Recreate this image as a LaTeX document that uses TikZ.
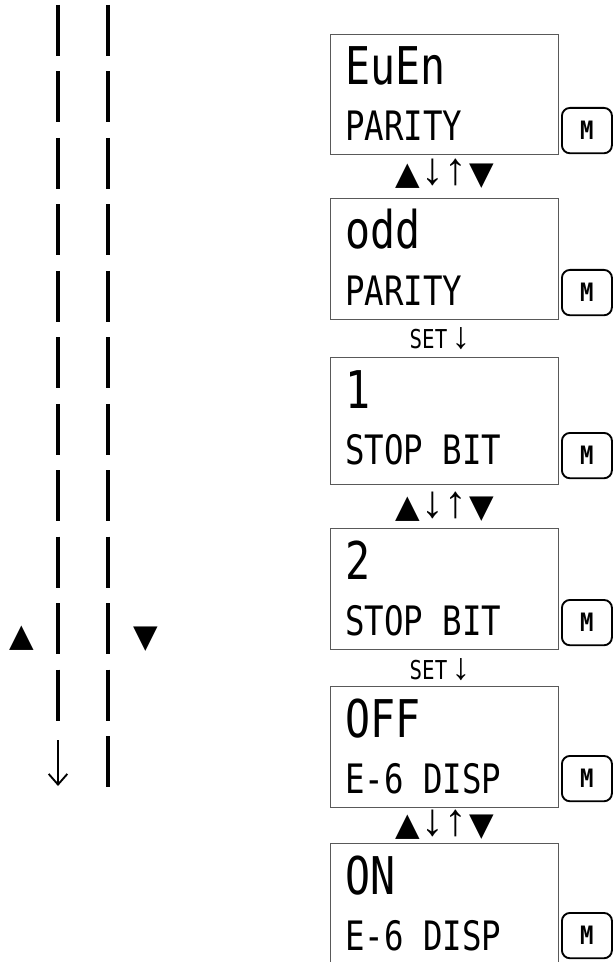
\documentclass[tikz,border=0pt]{standalone}
\usepackage{fontspec}
\newfontfamily\lcdfont[FakeStretch=0.8]{DejaVu Sans Mono}
\newfontfamily\keyfont[FakeStretch=0.88]{DejaVu Sans Mono Bold}
\newfontfamily\symfont{Liberation Sans}
\newfontfamily\shapefont{DejaVu Sans}
\newcommand{\setlabelfont}{\lcdfont\fontsize{19.5}{20}\selectfont}
\newcommand{\trifont}{\shapefont\fontsize{24}{24}\selectfont}
\newcommand{\arrowfont}{\symfont\fontsize{34}{34}\selectfont}
\newcommand{\setarrowfont}{\symfont\fontsize{28}{28}\selectfont}
\usetikzlibrary{arrows.meta}

\begin{document}
\begin{tikzpicture}[
    x=0.75pt, y=-0.75pt,
    lcdbox/.style={draw=black!65, line width=1pt, minimum width=171pt, inner sep=0pt, anchor=north west},
    keybox/.style={draw=black, line width=1.4pt, rounded corners=6pt, minimum width=37.5pt, minimum height=34pt,
        inner sep=0pt, anchor=north west, font=\keyfont\fontsize{19}{19}\selectfont},
    big_text/.style={anchor=base west, inner sep=0pt, font=\lcdfont\fontsize{39}{39}\selectfont},
    small_text/.style={anchor=base west, inner sep=0pt, font=\lcdfont\fontsize{30.4}{30}\selectfont},
    nav_label/.style={inner sep=0pt, anchor=base},
    rail/.style={line width=2.6pt, dash pattern=on 38.25pt off 11.6pt}
]

% Tamano fijo de la imagen
\useasboundingbox (0,0) rectangle (613,962);

% ==========================
% COLUMNAS IZQUIERDAS
% ==========================
\coordinate (L-top) at (58,5);
\coordinate (L-bot) at (58,723);
\coordinate (R-top) at (108,5);
\coordinate (R-bot) at (108,788);
\draw[rail] (L-top) -- (L-bot);
\draw[rail] (R-top) -- (R-bot);

\coordinate (A-top) at (58,740);
\coordinate (A-tip) at (58,786);
\draw[line width=1.6pt, -{Straight Barb[length=8pt, width=14pt, line width=1.4pt]}] (A-top) -- (A-tip);

\node[nav_label] (up-key) at (22,646) {\trifont ▲};
\node[nav_label] (down-key) at (145.5,647) {\trifont ▼};

% ==========================
% PANTALLAS
% ==========================
\foreach \i/\top/\h/\val/\param/\mtop in {
    1/34/120/EuEn/PARITY/107, 2/198/121/odd/PARITY/269, 3/357/127/1/STOP BIT/432,
    4/528/121/2/STOP BIT/599, 5/686/121/OFF/E-6 DISP/755, 6/843/121/ON/E-6 DISP/912
} {
    \node[lcdbox, minimum height=\h*0.75pt] (box-\i) at (330,\top) {};
    \node[big_text] (val-\i) at (345,\top+51) {\val};
    \node[small_text] (param-\i) at (345,\top+107) {\param};
    % Tecla M
    \node[keybox] (key-\i) at (561,\mtop) {M};
}

% ==========================
% TRANSICIONES
% ==========================
\foreach \j/\y in {1/185, 3/517, 5/835} {
    \node[nav_label] (nav-\j) at (444.5,\y)
        {{\trifont ▲}\hspace{1.5pt}{\arrowfont ↓↑}\hspace{1.5pt}{\trifont ▼}};
}
\foreach \j/\y in {2/348, 4/679} {
    \node[nav_label] (nav-\j) at (440,\y) {\setlabelfont SET\,\setarrowfont↓};
}

\end{tikzpicture}
\end{document}
